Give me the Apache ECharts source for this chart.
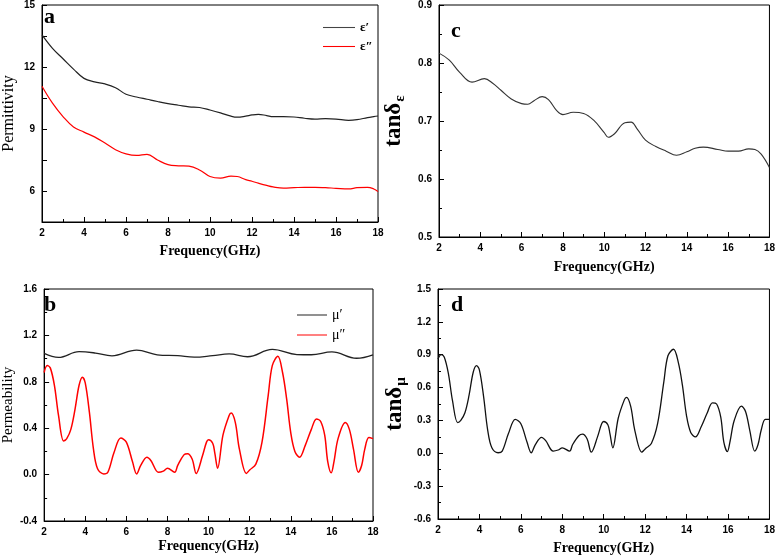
<!DOCTYPE html>
<html><head><meta charset="utf-8">
<script src="https://cdn.jsdelivr.net/npm/echarts@6/dist/echarts.min.js"></script>
<style>html,body{margin:0;padding:0;background:#fff}#c{width:778px;height:556px}</style>
</head><body><div id="c"></div>
<script>
// ---------- data ----------
const epsX = [2,2.5,3,3.5,4,4.5,5,5.5,6,6.5,7,7.5,8,8.5,9,9.5,10,10.5,11,11.3,11.7,12,12.3,12.7,13,13.5,14,14.5,15,15.5,16,16.6,17,17.5,17.8,18];
const epsReal = [13.55,12.9,12.4,11.9,11.45,11.28,11.18,11.0,10.68,10.55,10.44,10.33,10.23,10.15,10.07,10.04,9.92,9.78,9.62,9.57,9.62,9.68,9.71,9.65,9.6,9.6,9.58,9.52,9.48,9.5,9.48,9.42,9.45,9.55,9.6,9.63];
const epsImag = [11.07,10.25,9.6,9.1,8.85,8.62,8.32,8.0,7.8,7.72,7.77,7.5,7.28,7.22,7.2,7.02,6.7,6.62,6.72,6.7,6.55,6.47,6.38,6.27,6.2,6.14,6.16,6.18,6.18,6.16,6.13,6.1,6.16,6.18,6.1,5.97];

const tanEX = [2,2.5,3,3.6,4.2,4.6,5,5.5,6,6.3,6.6,7,7.3,7.7,8,8.5,9,9.5,10,10.2,10.5,11,11.3,11.6,12,12.5,13,13.5,14,14.4,14.8,15.5,16,16.5,17,17.3,17.6,18];
const tanE = [0.817,0.805,0.784,0.767,0.773,0.765,0.753,0.738,0.730,0.729,0.735,0.742,0.737,0.718,0.711,0.715,0.713,0.701,0.680,0.672,0.678,0.697,0.698,0.686,0.667,0.656,0.648,0.641,0.647,0.653,0.655,0.651,0.648,0.648,0.652,0.651,0.643,0.620];

const muRX = [2,2.7,3.7,4.5,5.3,6.5,7.5,8.5,9.3,10.2,11,11.9,13.1,14.3,15,16,17.2,18];
const muReal = [1.045,1.01,1.06,1.048,1.024,1.073,1.033,1.025,1.012,1.025,1.04,1.016,1.079,1.035,1.033,1.058,1.003,1.033];

const muIX = [2,2.15,2.3,2.5,2.7,2.95,3.1,3.3,3.5,3.7,3.86,4.0,4.2,4.4,4.6,4.9,5.1,5.4,5.73,6.0,6.3,6.5,6.7,7.0,7.2,7.56,7.8,8.0,8.35,8.5,8.8,8.98,9.2,9.4,9.7,9.9,10.0,10.2,10.3,10.44,10.7,11.0,11.1,11.3,11.5,11.84,12.0,12.3,12.6,12.9,13.1,13.37,13.6,13.8,14.0,14.2,14.43,14.7,15.0,15.25,15.45,15.65,15.8,15.97,16.1,16.3,16.65,16.85,17.05,17.29,17.45,17.6,17.8,18];
const muImag = [0.88,0.94,0.92,0.77,0.51,0.29,0.31,0.39,0.56,0.77,0.84,0.79,0.54,0.22,0.05,0.006,0.02,0.19,0.315,0.28,0.11,0.006,0.08,0.15,0.12,0.02,0.03,0.055,0.02,0.08,0.17,0.18,0.135,0.01,0.16,0.28,0.30,0.27,0.19,0.055,0.34,0.51,0.53,0.45,0.22,0.01,0.04,0.09,0.28,0.68,0.94,1.02,0.88,0.65,0.36,0.2,0.15,0.25,0.39,0.48,0.46,0.34,0.11,0.015,0.11,0.31,0.45,0.39,0.22,0.02,0.08,0.22,0.32,0.31];
const tanMu = [0.86,0.90,0.88,0.73,0.48,0.28,0.30,0.37,0.53,0.74,0.80,0.76,0.52,0.21,0.05,0.005,0.02,0.18,0.31,0.27,0.10,0.005,0.08,0.145,0.115,0.02,0.03,0.05,0.02,0.08,0.16,0.175,0.13,0.01,0.15,0.27,0.29,0.26,0.18,0.05,0.32,0.49,0.51,0.43,0.21,0.01,0.04,0.09,0.27,0.65,0.89,0.95,0.83,0.62,0.34,0.19,0.15,0.24,0.37,0.46,0.45,0.33,0.10,0.015,0.11,0.30,0.43,0.38,0.21,0.02,0.08,0.21,0.31,0.31];

const xTicks = {min:2, max:18, interval:2};
// ---------- chart ----------
const zip = (xs, ys) => xs.map((x,i)=>[x, ys[i]]);
const SANS = 'Liberation Sans, Arial, sans-serif';
const SERIF = 'Liberation Serif, Times New Roman, serif';
const labelStyle = {fontFamily: SANS, fontWeight: 'bold', fontSize: 10, color: '#000'};

function xAxis(idx, gap) {
  return {
    type: 'value', gridIndex: idx, min: xTicks.min, max: xTicks.max, interval: xTicks.interval,
    name: 'Frequency(GHz)', nameLocation: 'middle', nameGap: gap,
    nameTextStyle: {fontFamily: SERIF, fontSize: 14, color: '#000', fontWeight: 'bold'},
    axisLine: {show: true, onZero: false, lineStyle: {color: '#000', width: 1}},
    axisTick: {show: true, inside: true, length: 5, lineStyle: {color: '#000'}},
    minorTick: {show: true, splitNumber: 2, length: 3, lineStyle: {color: '#000'}},
    axisLabel: Object.assign({margin: 6}, labelStyle),
    splitLine: {show: false}
  };
}
function yAxis(idx, min, max, interval, opts) {
  return Object.assign({
    type: 'value', gridIndex: idx, min, max, interval,
    nameLocation: 'middle',
    axisLine: {show: true, onZero: false, lineStyle: {color: '#000', width: 1}},
    axisTick: {show: true, inside: true, length: 5, lineStyle: {color: '#000'}},
    minorTick: {show: true, splitNumber: 2, length: 3, lineStyle: {color: '#000'}},
    axisLabel: Object.assign({margin: 7, formatter: v => v.toFixed(1)}, labelStyle),
    splitLine: {show: false}
  }, opts);
}
const tanRich = {
  m: {fontFamily: SERIF, fontSize: 23, fontWeight: 'bold', color: '#000'},
  s: {fontFamily: SERIF, fontSize: 15, fontWeight: 'bold', color: '#000', padding: [12, 0, 0, 1]}
};

const chart = echarts.init(document.getElementById('c'), null, {renderer: 'canvas'});
const gridBase = {show: true, borderColor: '#000', borderWidth: 1, backgroundColor: 'transparent'};
const legendIcon = 'path://M0,0H30V1H0Z';
chart.setOption({
  animation: false,
  backgroundColor: '#fff',
  grid: [
    Object.assign({left: 37, top: 4, width: 341, height: 218}, gridBase),
    Object.assign({left: 439, top: 4, width: 333, height: 233}, gridBase),
    Object.assign({left: 37, top: 289, width: 336, height: 232}, gridBase),
    Object.assign({left: 438, top: 289, width: 335, height: 234}, gridBase)
  ],
  xAxis: [xAxis(0, 22), xAxis(1, 23), xAxis(2, 18), xAxis(3, 22)],
  yAxis: [
    yAxis(0, 4.5, 15, 1.5, {
      name: 'Permittivity', nameGap: 25,
      nameTextStyle: {fontFamily: SERIF, fontSize: 16, color: '#000'},
      minorTick: {show: false},
      axisLabel: Object.assign({margin: 7, formatter: v => Math.abs(v/3 - Math.round(v/3)) < 1e-6 ? String(Math.round(v)) : ''}, labelStyle)
    }),
    yAxis(1, 0.5, 0.9, 0.1, {
      name: '{m|tanδ}{s|ε}', nameGap: 31,
      nameTextStyle: {rich: tanRich}
    }),
    yAxis(2, -0.4, 1.6, 0.4, {
      name: 'Permeability', nameGap: 26,
      nameTextStyle: {fontFamily: SERIF, fontSize: 15, color: '#000'}
    }),
    yAxis(3, -0.6, 1.5, 0.3, {
      name: '{m|tanδ}{s|μ}', nameGap: 29,
      nameTextStyle: {rich: tanRich}
    })
  ],
  legend: [
    {data: ['ε′', 'ε″'], icon: legendIcon, orient: 'vertical', left: 318, top: 16, itemGap: 6, itemWidth: 32, itemHeight: 1.6,
     textStyle: {fontFamily: SERIF, fontSize: 13, fontWeight: 'bold', color: '#000', padding: [0,0,0,0]}},
    {data: ['μ′', 'μ″'], icon: legendIcon, orient: 'vertical', left: 292, top: 303, itemGap: 6, itemWidth: 30, itemHeight: 1.6,
     textStyle: {fontFamily: SERIF, fontSize: 14, color: '#000', padding: [0,0,0,0]}}
  ],
  graphic: [
    {type: 'text', left: 44, top: 6, style: {text: 'a', font: 'bold 22px ' + SERIF, fill: '#000'}},
    {type: 'text', left: 451, top: 20, style: {text: 'c', font: 'bold 22px ' + SERIF, fill: '#000'}},
    {type: 'text', left: 44, top: 294, style: {text: 'b', font: 'bold 22px ' + SERIF, fill: '#000'}},
    {type: 'text', left: 451, top: 294, style: {text: 'd', font: 'bold 22px ' + SERIF, fill: '#000'}}
  ],
  series: [
    {name: 'ε′', type: 'line', xAxisIndex: 0, yAxisIndex: 0, data: zip(epsX, epsReal), smooth: 0.4, showSymbol: false, symbol: 'none',
     lineStyle: {color: '#222', width: 1.2}, itemStyle: {color: '#444'}},
    {name: 'ε″', type: 'line', xAxisIndex: 0, yAxisIndex: 0, data: zip(epsX, epsImag), smooth: 0.4, showSymbol: false, symbol: 'none',
     lineStyle: {color: '#ff0000', width: 1.2}, itemStyle: {color: '#ff0000'}},
    {name: 'tanE', type: 'line', xAxisIndex: 1, yAxisIndex: 1, data: zip(tanEX, tanE), smooth: 0.4, showSymbol: false, symbol: 'none',
     lineStyle: {color: '#333', width: 1.1}},
    {name: 'μ′', type: 'line', xAxisIndex: 2, yAxisIndex: 2, data: zip(muRX, muReal), smooth: 0.4, showSymbol: false, symbol: 'none',
     lineStyle: {color: '#222', width: 1.3}, itemStyle: {color: '#222'}},
    {name: 'μ″', type: 'line', xAxisIndex: 2, yAxisIndex: 2, data: zip(muIX, muImag), smooth: 0.35, showSymbol: false, symbol: 'none',
     lineStyle: {color: '#ff0000', width: 1.5}, itemStyle: {color: '#ff0000'}},
    {name: 'tanMu', type: 'line', xAxisIndex: 3, yAxisIndex: 3, data: zip(muIX, tanMu), smooth: 0.35, showSymbol: false, symbol: 'none',
     lineStyle: {color: '#111', width: 1.3}}
  ]
});
</script></body></html>
